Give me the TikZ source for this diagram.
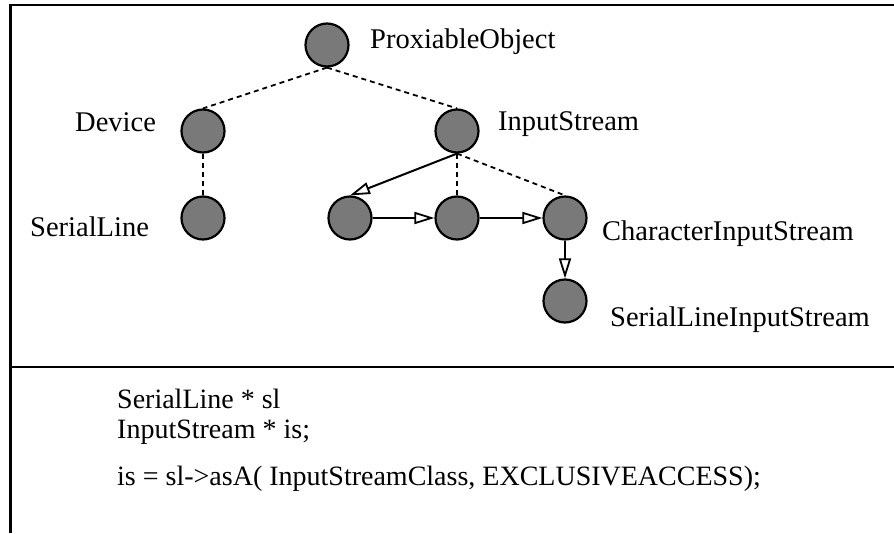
\documentclass[tikz,border=0pt]{standalone}
\usepackage{fontspec}
\setmainfont{Liberation Serif}
\usetikzlibrary{arrows.meta}
\begin{document}
\begin{tikzpicture}[x=1pt,y=-1pt,
  obj/.style={circle, draw=black, line width=2.2pt, fill=gray!95!black, minimum size=43pt, inner sep=0pt},
  lbl/.style={anchor=base west, inner sep=0pt, font=\fontsize{28.5}{32}\selectfont},
  code/.style={anchor=base west, inner sep=0pt, font=\fontsize{28}{32}\selectfont},
  inherit/.style={line width=1.8pt, dash pattern=on 5pt off 4pt},
  uses/.style={line width=2pt, -{Triangle[open, length=20pt, width=12pt, line width=1.8pt]}},
  frame/.style={line width=2.5pt}]
\useasboundingbox (0,0) rectangle (894,533);

% outer frame and divider
\draw[frame] (10.5,533) -- (10.5,5) -- (894,5);
\draw[frame] (10.5,367) -- (894,367);

% class nodes
\node[obj] (po)  at (327,45)  {};
\node[obj] (dev) at (203,131) {};
\node[obj] (is)  at (457,131) {};
\node[obj] (sl)  at (203,218) {};
\node[obj] (a)   at (350,218) {};
\node[obj] (b)   at (457,218) {};
\node[obj] (cis) at (565,218) {};
\node[obj] (slis) at (565,301) {};

% labels
\node[lbl] (tpo)   at (370,48)  {ProxiableObject};
\node[lbl] (tdev)  at (75,131)  {Device};
\node[lbl] (tis)   at (498,130) {InputStream};
\node[lbl] (tsl)   at (30,236)  {SerialLine};
\node[lbl] (tcis)  at (602,240) {CharacterInputStream};
\node[lbl] (tslis) at (610,326) {SerialLineInputStream};

% inheritance links
\draw[inherit] (po.south) -- (dev.north);
\draw[inherit] (po.south) -- (is.north);
\draw[inherit] (dev.south) -- (sl.north);
\draw[inherit] (is.south) -- (b.north);
\draw[inherit] (is.south) -- (cis.north);

% stream chain
\draw[uses] (is.south) -- (a.north);
\draw[uses] (a.east) -- (b.west);
\draw[uses] (b.east) -- (cis.west);
\draw[uses] (cis.south) -- (slis.north);

% code fragment
\node[code] (c1) at (117,408) {SerialLine * sl};
\node[code] (c2) at (117,438) {InputStream * is;};
\node[code] (c3) at (117,485) {is = sl->asA( InputStreamClass, EXCLUSIVEACCESS);};
\end{tikzpicture}
\end{document}
